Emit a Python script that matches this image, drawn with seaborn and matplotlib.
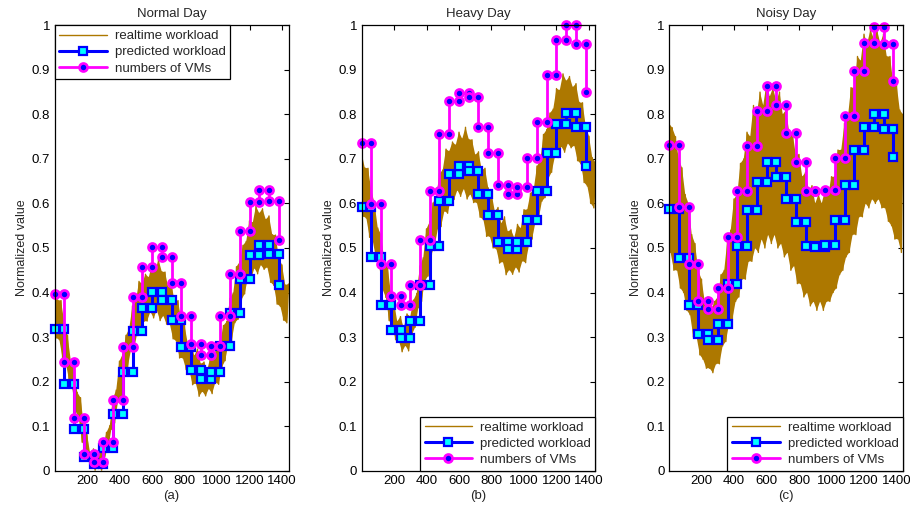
import matplotlib
matplotlib.use("Agg")
import matplotlib.pyplot as plt
import seaborn as sns

sns.set_theme(style="white")
plt.rcParams["font.family"] = ["Liberation Sans", "DejaVu Sans"]

# realtime workload, read as upper swing (every 20 min from 0) and lower swing (every 20 min from 10)
normal_hi = [.419, .383, .382, .333, .304, .248, .234, .176, .164, .104,
             .081, .038, .049, .023, .055, .049, .086, .101, .163, .181,
             .246, .262, .304, .319, .370, .378, .425, .420, .441, .434,
             .463, .448, .474, .447, .446, .412, .419, .378, .382, .338,
             .326, .286, .294, .258, .273, .240, .244, .226, .256, .247,
             .289, .289, .326, .335, .387, .399, .458, .469, .506, .515,
             .561, .557, .594, .578, .588, .564, .572, .530, .529, .480,
             .462, .417, .419]
normal_lo = [.298, .294, .251, .242, .202, .184, .134, .116, .064, .053,
             .021, .019, .001, .008, .001, .032, .049, .093, .107, .153,
             .164, .212, .231, .270, .275, .310, .305, .335, .336, .357,
             .343, .360, .337, .348, .329, .329, .296, .291, .253, .253,
             .227, .225, .193, .196, .167, .178, .168, .184, .173, .198,
             .194, .232, .247, .284, .291, .332, .340, .383, .397, .432,
             .430, .455, .442, .462, .452, .457, .423, .416, .374, .369,
             .338, .332]
heavy_hi = [.716, .680, .679, .630, .601, .545, .531, .473, .461, .401,
            .378, .335, .346, .320, .352, .346, .383, .398, .460, .478,
            .543, .559, .601, .616, .667, .675, .722, .717, .738, .731,
            .760, .745, .771, .744, .743, .709, .716, .675, .679, .635,
            .623, .583, .591, .555, .570, .537, .541, .523, .553, .544,
            .586, .586, .623, .632, .684, .696, .755, .766, .803, .812,
            .858, .854, .891, .875, .885, .861, .869, .827, .826, .774,
            .751, .703, .692]
heavy_lo = [.571, .567, .524, .515, .475, .457, .407, .389, .337, .326,
            .294, .292, .267, .281, .269, .305, .322, .366, .380, .426,
            .437, .485, .504, .543, .548, .583, .578, .608, .609, .630,
            .616, .633, .610, .621, .602, .602, .569, .564, .526, .526,
            .500, .498, .466, .469, .440, .451, .441, .457, .446, .471,
            .467, .505, .520, .557, .564, .605, .613, .656, .670, .705,
            .703, .728, .715, .735, .725, .730, .696, .689, .647, .639,
            .601, .590]
noisy_hi = [.78, .77, .75, .70, .68, .62, .60, .53, .51, .45,
            .43, .38, .39, .36, .38, .39, .44, .45, .52, .54,
            .61, .62, .69, .70, .76, .75, .82, .80, .85, .82,
            .87, .84, .86, .83, .85, .80, .81, .76, .76, .71,
            .71, .66, .67, .63, .64, .60, .62, .60, .63, .62,
            .66, .66, .72, .72, .78, .79, .86, .86, .93, .92,
            .98, .96, .99, .97, .99, .96, .98, .93, .93, .87,
            .87, .81, .80]
noisy_lo = [.49, .45, .45, .41, .40, .36, .35, .30, .30, .26,
            .25, .23, .23, .22, .24, .24, .28, .29, .33, .34,
            .38, .39, .43, .43, .47, .47, .50, .49, .52, .50,
            .53, .51, .53, .50, .51, .48, .49, .45, .46, .42,
            .42, .39, .40, .37, .38, .36, .38, .36, .38, .38,
            .40, .41, .44, .45, .48, .49, .53, .53, .57, .57,
            .60, .59, .61, .60, .61, .59, .59, .56, .55, .52,
            .52, .49]

# hourly predicted workload and numbers of VMs (one value per hour, starting at minute 0)
hour_start = [60 * i for i in range(24)]
normal_pred = [0.318, 0.194, 0.093, 0.030, 0.014, 0.051, 0.127, 0.222, 0.314, 0.366, 0.402, 0.383,
               0.339, 0.278, 0.226, 0.207, 0.222, 0.280, 0.355, 0.431, 0.484, 0.507, 0.486, 0.417]
normal_vms = [0.396, 0.243, 0.118, 0.037, 0.019, 0.065, 0.158, 0.278, 0.390, 0.458, 0.502, 0.480,
              0.422, 0.347, 0.285, 0.259, 0.279, 0.348, 0.441, 0.538, 0.603, 0.630, 0.605, 0.519]
heavy_pred = [0.591, 0.480, 0.373, 0.315, 0.299, 0.336, 0.416, 0.504, 0.606, 0.666, 0.684, 0.674,
              0.621, 0.574, 0.514, 0.498, 0.513, 0.563, 0.628, 0.714, 0.778, 0.804, 0.771, 0.683]
heavy_vms = [0.735, 0.598, 0.465, 0.393, 0.373, 0.418, 0.519, 0.629, 0.756, 0.829, 0.848, 0.839,
             0.771, 0.713, 0.642, 0.621, 0.638, 0.703, 0.783, 0.889, 0.966, 1.0, 0.959, 0.850]
noisy_pred = [0.588, 0.477, 0.372, 0.306, 0.293, 0.330, 0.420, 0.504, 0.585, 0.648, 0.693, 0.659,
              0.610, 0.558, 0.504, 0.502, 0.506, 0.563, 0.642, 0.720, 0.771, 0.801, 0.768, 0.705]
noisy_vms = [0.732, 0.593, 0.463, 0.381, 0.364, 0.411, 0.525, 0.628, 0.729, 0.807, 0.864, 0.820,
             0.759, 0.693, 0.628, 0.628, 0.631, 0.701, 0.797, 0.897, 0.960, 0.996, 0.957, 0.876]

titles = ["Normal Day", "Heavy Day", "Noisy Day"]
sublabels = ["(a)", "(b)", "(c)"]
xticks = [200, 400, 600, 800, 1000, 1200, 1400]
yticks = [0, 0.1, 0.2, 0.3, 0.4, 0.5, 0.6, 0.7, 0.8, 0.9, 1]
ytick_labels = ["0", "0.1", "0.2", "0.3", "0.4", "0.5", "0.6", "0.7", "0.8", "0.9", "1"]

panels = [
    (normal_hi, normal_lo, normal_pred, normal_vms),
    (heavy_hi, heavy_lo, heavy_pred, heavy_vms),
    (noisy_hi, noisy_lo, noisy_pred, noisy_vms),
]
gold = "#ad7800"


def zigzag(hi, lo):
    xs, ys = [], []
    for i, v in enumerate(hi):
        xs.append(20 * i)
        ys.append(v)
        if i < len(lo):
            xs.append(20 * i + 10)
            ys.append(lo[i])
    return xs, ys


def steps(starts, vals):
    xs, ys = [starts[0]], [vals[0]]
    for i in range(1, len(vals)):
        xs += [starts[i], starts[i]]
        ys += [vals[i - 1], vals[i]]
    return xs, ys


fig = plt.figure(figsize=(9.1, 5.08), dpi=100)
lefts = [54.5, 361.5, 669]

for k, (hi, lo, pred, vms) in enumerate(panels):
    ax = fig.add_axes([lefts[k] / 910, 37.3 / 508, 234 / 910, 445.4 / 508])

    # solid body of the oscillating band, then the swings themselves on top
    hx = [20 * i for i in range(len(hi))]
    lx = [20 * i + 10 for i in range(len(lo))]
    ax.fill(hx + lx[::-1], hi + lo[::-1], color=gold, lw=0)
    rx, ry = zigzag(hi, lo)
    sns.lineplot(x=rx, y=ry, ax=ax, estimator=None, sort=False, color=gold,
                 linewidth=1.0, label="realtime workload")

    px, py = steps(hour_start, pred)
    sns.lineplot(x=px, y=py, ax=ax, estimator=None, sort=False, color="#0000ff",
                 linewidth=2.2, marker="s", markersize=5.5, markerfacecolor="#00ffff",
                 markeredgecolor="#0000ff", markeredgewidth=1.6, clip_on=False,
                 label="predicted workload")
    vx, vy = steps(hour_start, vms)
    sns.lineplot(x=vx, y=vy, ax=ax, estimator=None, sort=False, color="#ff00ff",
                 linewidth=2.0, marker="o", markersize=5.8, markerfacecolor="#0000ff",
                 markeredgecolor="#ff00ff", markeredgewidth=1.9, clip_on=False,
                 label="numbers of VMs")

    ax.set_xlim(0, 1440)
    ax.set_ylim(0, 1)
    ax.set_xticks(xticks)
    ax.set_yticks(yticks)
    ax.set_yticklabels(ytick_labels)
    ax.tick_params(direction="in", top=True, right=True, length=3.5, width=0.8,
                   labelsize=9.5, colors="black", pad=3)
    for sp in ax.spines.values():
        sp.set_color("black")
        sp.set_linewidth(0.9)
    ax.set_title(titles[k], fontsize=9.5, pad=6)
    ax.set_ylabel("Normalized value", fontsize=9, labelpad=3)
    ax.set_xlabel(sublabels[k], fontsize=9.5, labelpad=2)

    loc = "upper left" if k == 0 else "lower right"
    leg = ax.legend(loc=loc, borderaxespad=0, fontsize=9.5, frameon=True, fancybox=False,
                    framealpha=1, edgecolor="black", handlelength=3.6, numpoints=1,
                    labelspacing=0.3, borderpad=0.35, handletextpad=0.6)
    leg.get_frame().set_linewidth(0.9)

fig.savefig("out.png", dpi=100)
